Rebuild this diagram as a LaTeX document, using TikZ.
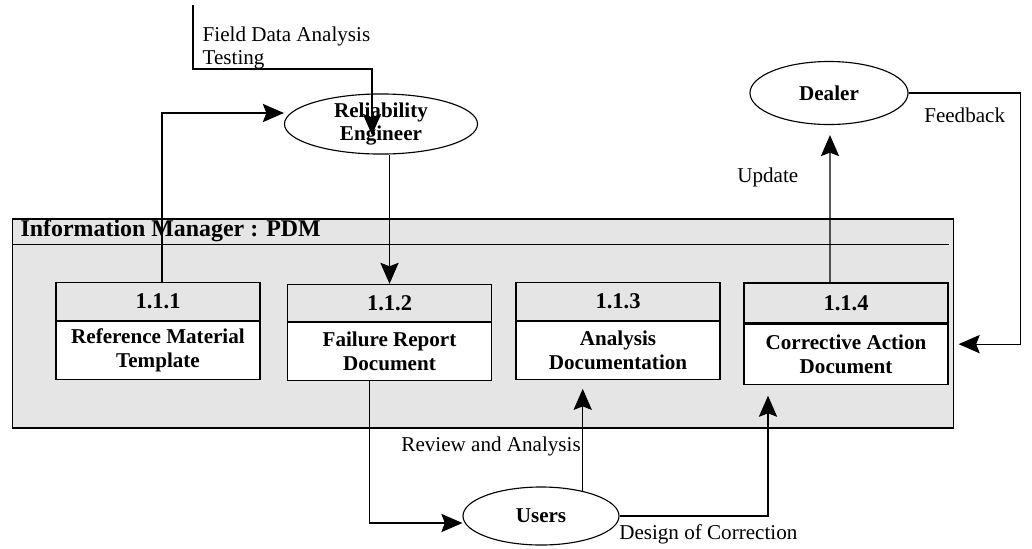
\documentclass[tikz,border=0pt]{standalone}
\usepackage{fontspec}
\setmainfont{Liberation Serif}
\usetikzlibrary{arrows.meta,positioning,calc,shapes.geometric}
\begin{document}
\begin{tikzpicture}[x=0.025cm,y=-0.025cm,
    flow/.style={line width=0.8pt,-{Stealth[length=15pt,width=13pt,inset=2.5pt]}},
    plain/.style={line width=0.8pt},
    agent/.style={ellipse,draw,line width=0.8pt,fill=white,inner sep=0pt,align=center,
      font=\bfseries\fontsize{15}{16.5}\selectfont},
    numbox/.style={draw,line width=0.8pt,minimum width=5.1cm,minimum height=0.93cm,inner sep=0pt,
      font=\bfseries\fontsize{16}{18}\selectfont},
    docbox/.style={draw,line width=0.8pt,fill=white,minimum width=5.1cm,minimum height=1.45cm,
      inner sep=0pt,align=center,font=\bfseries\fontsize{15}{17}\selectfont},
    lbl/.style={inner sep=1pt,align=left,font=\fontsize{15}{16.5}\selectfont}]
  \useasboundingbox (0,0) rectangle (1032,548);

  % information manager
  \node[draw,line width=0.8pt,fill=black!10,minimum width=23.5cm,minimum height=5.225cm,inner sep=0pt]
    (pdm) at (483,323.5) {};
  \draw[plain] ($(pdm.north west)+(0,26)$) -- ($(pdm.north east)+(-5,26)$);
  \node[anchor=west,inner sep=0pt,font=\bfseries\fontsize{17}{19}\selectfont]
    (pdmtitle) at ($(pdm.north west)+(8,12)$) {Information Manager : PDM};

  \node[numbox] (n111) at (158,301.5) {1.1.1};
  \node[docbox,below=0pt of n111] (d111) {Reference Material\\Template};
  \node[numbox] (n112) at (389.5,303) {1.1.2};
  \node[docbox,below=0pt of n112] (d112) {Failure Report\\Document};
  \node[numbox] (n113) at (618,301.5) {1.1.3};
  \node[docbox,below=0pt of n113] (d113) {Analysis\\Documentation};
  \node[numbox,minimum height=1cm] (n114) at (846,303) {1.1.4};
  \node[docbox,below=0pt of n114,minimum height=1.5cm] (d114) {Corrective Action\\Document};

  % agents
  \node[agent,minimum width=4.825cm,minimum height=1.375cm] (rel) at (381,124) {Reliability\\Engineer};
  \node[agent,minimum width=3.95cm,minimum height=1.575cm] (dealer) at (829,93) {Dealer};
  \node[agent,minimum width=3.9cm,minimum height=1.45cm] (users) at (541,516) {Users};

  % flows
  \coordinate (fdsrc) at (193,5);
  \draw[flow] (fdsrc) |- ($(rel.center)+(-9,-55)$) -- ($(rel.center)+(-9,11)$);
  \node[lbl,anchor=north west] (fdlbl) at ($(fdsrc)+(8,20)$) {Field Data Analysis\\Testing};
  \draw[flow] ([xshift=0.1cm]n111.north) |- ([yshift=0.275cm]rel.west);
  \draw[flow] (rel.south -| n112.north) -- (n112.north);
  \draw[flow] ([xshift=-0.49cm]d112.south) |- ([yshift=-0.175cm]users.west);
  \draw[flow] (users.31) -- ($(users.31 |- d113.south)+(0,9)$)
    node[lbl,pos=0.44,left] (revlbl) {Review and Analysis};
  \draw[flow] (users.east) -| ($(d114.south)+(-78,11)$);
  \node[lbl,anchor=north west] (deslbl) at ($(users.east)+(-2,7)$) {Design of Correction};
  \draw[flow] ([xshift=-0.4cm]n114.north) -- ($(dealer.south)+(1,10)$);
  \node[lbl,anchor=east] (updlbl) at ($(dealer.south)+(-29,52)$) {Update};
  \draw[flow] (dealer.east) -- ++(112,0) |- ($(d114.east)+(10,-10)$);
  \node[lbl,anchor=north west] (fblbl) at ($(dealer.east)+(14,13)$) {Feedback};
\end{tikzpicture}
\end{document}
